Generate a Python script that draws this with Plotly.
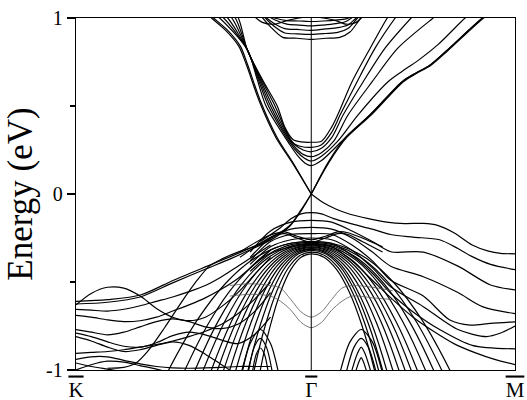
import plotly.graph_objects as go

# ---------------- axis definitions ----------------
K_POS, G_POS, M_POS = -1.1547, 0.0, 1.0
k_ticks = [K_POS, G_POS, M_POS]
k_labels = ['<span style="text-decoration:overline">K</span>',
            '<span style="text-decoration:overline">\u0393</span>',
            '<span style="text-decoration:overline">M</span>']
e_major = [-1, 0, 1]
e_major_labels = ["-1", "0", "1"]
e_minor = [-0.5, 0.5]

# ---------------- conduction bands (bulk quantum-well states) ----------------
cb_q = [
    [-0.40, -0.358, -0.314, -0.24, -0.167, -0.13, -0.09, -0.05, 0, 0.05, 0.10, 0.13, 0.20, 0.29, 0.373, 0.42],
    [-0.42, -0.373, -0.314, -0.245, -0.178, -0.125, -0.09, -0.05, 0, 0.05, 0.10, 0.142, 0.225, 0.314, 0.412, 0.46],
    [-0.44, -0.39, -0.314, -0.25, -0.19, -0.12, -0.08, -0.04, 0, 0.05, 0.10, 0.157, 0.255, 0.363, 0.49, 0.54],
    [-0.46, -0.41, -0.314, -0.255, -0.20, -0.115, -0.075, -0.04, 0, 0.05, 0.11, 0.181, 0.299, 0.426, 0.598, 0.65],
    [-0.48, -0.43, -0.314, -0.26, -0.21, -0.11, -0.07, -0.035, 0, 0.05, 0.13, 0.23, 0.377, 0.45, 0.52, 0.623, 0.755, 0.80],
    [-0.50, -0.45, -0.314, -0.265, -0.222, -0.105, -0.065, -0.03, 0, 0.05, 0.15, 0.289, 0.446, 0.51, 0.58, 0.66, 0.84, 0.88],
]
cb_E = [
    [1.06, 1.0, 0.82, 0.65, 0.50, 0.38, 0.31, 0.296, 0.294, 0.30, 0.38, 0.45, 0.638, 0.83, 1.0, 1.08],
    [1.05, 1.0, 0.82, 0.65, 0.50, 0.36, 0.29, 0.27, 0.265, 0.28, 0.35, 0.45, 0.638, 0.83, 1.0, 1.07],
    [1.05, 1.0, 0.82, 0.65, 0.50, 0.34, 0.28, 0.25, 0.24, 0.26, 0.32, 0.45, 0.638, 0.83, 1.0, 1.06],
    [1.05, 1.0, 0.82, 0.65, 0.50, 0.32, 0.26, 0.225, 0.212, 0.235, 0.30, 0.45, 0.638, 0.83, 1.0, 1.05],
    [1.04, 1.0, 0.82, 0.65, 0.50, 0.30, 0.24, 0.205, 0.1875, 0.215, 0.30, 0.45, 0.638, 0.70, 0.755, 0.85, 1.0, 1.04],
    [1.04, 1.0, 0.82, 0.65, 0.50, 0.28, 0.215, 0.175, 0.161, 0.19, 0.30, 0.45, 0.638, 0.685, 0.73, 0.81, 1.0, 1.03],
]

# ---------------- higher conduction states near the top ----------------
top_q = [
    [-0.26, -0.20, -0.14, -0.07, 0, 0.07, 0.14, 0.19, 0.23, 0.26],
    [-0.25, -0.19, -0.13, -0.07, 0, 0.07, 0.13, 0.18, 0.22, 0.25],
    [-0.25, -0.19, -0.13, -0.07, 0, 0.07, 0.13, 0.18, 0.22, 0.25],
    [-0.24, -0.18, -0.12, -0.06, 0, 0.06, 0.12, 0.17, 0.21, 0.24],
    [-0.24, -0.18, -0.12, -0.06, 0, 0.06, 0.12, 0.17, 0.21, 0.24],
    [-0.30, -0.24, -0.18, -0.12, -0.06, 0, 0.06, 0.12, 0.17, 0.22, 0.27],
]
top_E = [
    [1.03, 0.95, 0.89, 0.885, 0.878, 0.885, 0.89, 0.92, 0.98, 1.03],
    [1.03, 0.96, 0.915, 0.91, 0.907, 0.912, 0.918, 0.94, 0.99, 1.03],
    [1.03, 0.975, 0.94, 0.935, 0.93, 0.938, 0.945, 0.96, 1.0, 1.03],
    [1.03, 0.99, 0.965, 0.96, 0.955, 0.96, 0.968, 0.98, 1.01, 1.03],
    [1.03, 1.0, 0.985, 0.983, 0.98, 0.983, 0.988, 0.995, 1.015, 1.03],
    [1.03, 0.975, 0.965, 0.985, 1.0, 1.01, 1.0, 0.985, 0.965, 0.975, 1.03],
]

# ---------------- Dirac surface-state branches ----------------
dirac_q = [
    [0, -0.088, -0.167, -0.25, -0.314, -0.348, -0.41, -0.48, -0.52],
    [0, -0.092, -0.173, -0.256, -0.32, -0.356, -0.42, -0.49, -0.53],
    [0, 0.083, 0.167, 0.289, 0.446, 0.51, 0.58, 0.66, 0.84, 0.88],
    [0, 0.087, 0.173, 0.295, 0.452, 0.516, 0.586, 0.666, 0.846, 0.886],
    [0, -0.05, -0.103, -0.186, -0.30, -0.397, -0.51, -0.676, -0.838, -1.0, -1.1547],
    [0, -0.052, -0.108, -0.19, -0.305, -0.40, -0.515, -0.68, -0.84, -1.0, -1.1547],
    [0, 0.06, 0.12, 0.19, 0.28, 0.37, 0.46, 0.55, 0.62, 0.70, 0.79, 0.87, 0.93, 1.0],
]
dirac_E = [
    [0, 0.175, 0.32, 0.53, 0.74, 0.84, 0.93, 1.0, 1.04],
    [0, 0.175, 0.32, 0.53, 0.74, 0.84, 0.93, 1.0, 1.04],
    [0, 0.18, 0.32, 0.45, 0.638, 0.685, 0.73, 0.81, 1.0, 1.03],
    [0, 0.18, 0.32, 0.45, 0.638, 0.685, 0.73, 0.81, 1.0, 1.03],
    [0, -0.09, -0.176, -0.243, -0.307, -0.356, -0.41, -0.49, -0.574, -0.60, -0.61],
    [0, -0.10, -0.186, -0.255, -0.32, -0.37, -0.425, -0.505, -0.585, -0.615, -0.625],
    [0, -0.05, -0.085, -0.115, -0.14, -0.16, -0.168, -0.167, -0.178, -0.22, -0.29, -0.325, -0.337, -0.34],
]

# ---------------- valence bands running toward M ----------------
vr_q = [
    [-0.25, -0.15, -0.10, -0.05, 0, 0.05, 0.11, 0.20, 0.30, 0.39, 0.50, 0.63, 0.72, 0.79, 0.88, 1.0],
    [-0.30, -0.20, -0.10, 0, 0.10, 0.20, 0.30, 0.39, 0.55, 0.72, 0.88, 1.0],
    [-0.30, -0.20, -0.10, 0, 0.10, 0.20, 0.30, 0.39, 0.55, 0.72, 0.84, 1.0],
    [-0.30, -0.20, -0.10, 0, 0.10, 0.20, 0.30, 0.39, 0.55, 0.68, 0.78, 0.88, 1.0],
    [-0.30, -0.20, -0.10, 0, 0.10, 0.20, 0.30, 0.39, 0.55, 0.72, 0.86, 0.93, 1.0],
    [-0.30, -0.20, -0.10, 0, 0.10, 0.20, 0.30, 0.39, 0.50, 0.63, 0.79, 1.0],
    [-0.30, -0.20, -0.10, 0, 0.10, 0.20, 0.30, 0.40, 0.50, 0.60, 0.70, 0.80, 0.90, 1.0],
]
vr_E = [
    [-0.27, -0.19, -0.14, -0.113, -0.106, -0.113, -0.14, -0.17, -0.20, -0.23, -0.245, -0.26, -0.31, -0.356, -0.40, -0.43],
    [-0.33, -0.21, -0.16, -0.15, -0.16, -0.21, -0.27, -0.328, -0.33, -0.41, -0.517, -0.545],
    [-0.36, -0.25, -0.20, -0.19, -0.20, -0.25, -0.33, -0.41, -0.47, -0.56, -0.64, -0.68],
    [-0.38, -0.27, -0.23, -0.225, -0.23, -0.29, -0.38, -0.49, -0.58, -0.716, -0.745, -0.735, -0.726],
    [-0.40, -0.30, -0.26, -0.25, -0.26, -0.32, -0.42, -0.527, -0.64, -0.77, -0.81, -0.79, -0.75],
    [-0.42, -0.32, -0.28, -0.27, -0.28, -0.35, -0.45, -0.564, -0.67, -0.77, -0.86, -0.88],
    [-0.44, -0.34, -0.30, -0.286, -0.30, -0.38, -0.49, -0.60, -0.70, -0.78, -0.85, -0.90, -0.94, -0.97],
]

# ---------------- M-shaped (Rashba-like) valence states ----------------
mband_q = [
    [-0.35, -0.25, -0.18, -0.13, -0.07, 0, 0.07, 0.13, 0.18, 0.25, 0.35],
    [-0.35, -0.25, -0.18, -0.13, -0.07, 0, 0.07, 0.13, 0.18, 0.25, 0.35],
]
mband_E = [
    [-0.33, -0.26, -0.225, -0.215, -0.24, -0.26, -0.24, -0.215, -0.22, -0.25, -0.30],
    [-0.36, -0.28, -0.235, -0.225, -0.25, -0.275, -0.25, -0.225, -0.23, -0.27, -0.33],
]

# ---------------- bulk valence domes ----------------
dome_q = [
    [-0.77, -0.70, -0.56, -0.42, -0.28, -0.14, 0, 0.136, 0.272, 0.408, 0.544, 0.68, 0.748],
    [-0.682, -0.62, -0.496, -0.372, -0.248, -0.124, 0, 0.128, 0.256, 0.384, 0.512, 0.64, 0.704],
    [-0.627, -0.57, -0.456, -0.342, -0.228, -0.114, 0, 0.12, 0.24, 0.36, 0.48, 0.60, 0.66],
    [-0.583, -0.53, -0.424, -0.318, -0.212, -0.106, 0, 0.112, 0.224, 0.336, 0.448, 0.56, 0.616],
    [-0.539, -0.49, -0.392, -0.294, -0.196, -0.098, 0, 0.104, 0.208, 0.312, 0.416, 0.52, 0.572],
    [-0.506, -0.46, -0.368, -0.276, -0.184, -0.092, 0, 0.098, 0.196, 0.294, 0.392, 0.49, 0.539],
    [-0.473, -0.43, -0.344, -0.258, -0.172, -0.086, 0, 0.092, 0.184, 0.276, 0.368, 0.46, 0.506],
    [-0.44, -0.40, -0.32, -0.24, -0.16, -0.08, 0, 0.086, 0.172, 0.258, 0.344, 0.43, 0.473],
    [-0.407, -0.37, -0.296, -0.222, -0.148, -0.074, 0, 0.08, 0.16, 0.24, 0.32, 0.40, 0.44],
    [-0.374, -0.34, -0.272, -0.204, -0.136, -0.068, 0, 0.074, 0.148, 0.222, 0.296, 0.37, 0.407],
    [-0.341, -0.31, -0.248, -0.186, -0.124, -0.062, 0, 0.07, 0.14, 0.21, 0.28, 0.35, 0.385],
    [-0.308, -0.28, -0.224, -0.168, -0.112, -0.056, 0, 0.066, 0.132, 0.198, 0.264, 0.33, 0.363],
    [-0.275, -0.25, -0.20, -0.15, -0.10, -0.05, 0, 0.062, 0.124, 0.186, 0.248, 0.31, 0.341],
]
dome_E = [
    [-1.17, -1.0, -0.717, -0.507, -0.367, -0.291, -0.27, -0.291, -0.367, -0.507, -0.717, -1.0, -1.17],
    [-1.17, -1.0, -0.719, -0.511, -0.371, -0.296, -0.275, -0.296, -0.371, -0.511, -0.719, -1.0, -1.17],
    [-1.17, -1.0, -0.721, -0.514, -0.376, -0.301, -0.28, -0.301, -0.376, -0.514, -0.721, -1.0, -1.17],
    [-1.17, -1.0, -0.723, -0.517, -0.38, -0.306, -0.285, -0.306, -0.38, -0.517, -0.723, -1.0, -1.17],
    [-1.17, -1.0, -0.725, -0.521, -0.384, -0.311, -0.29, -0.311, -0.384, -0.521, -0.725, -1.0, -1.17],
    [-1.17, -1.0, -0.726, -0.524, -0.389, -0.315, -0.295, -0.315, -0.389, -0.524, -0.726, -1.0, -1.17],
    [-1.17, -1.0, -0.728, -0.528, -0.393, -0.32, -0.30, -0.32, -0.393, -0.528, -0.728, -1.0, -1.17],
    [-1.17, -1.0, -0.73, -0.531, -0.397, -0.325, -0.305, -0.325, -0.397, -0.531, -0.73, -1.0, -1.17],
    [-1.17, -1.0, -0.732, -0.534, -0.402, -0.33, -0.31, -0.33, -0.402, -0.534, -0.732, -1.0, -1.17],
    [-1.17, -1.0, -0.734, -0.538, -0.406, -0.335, -0.315, -0.335, -0.406, -0.538, -0.734, -1.0, -1.17],
    [-1.17, -1.0, -0.736, -0.541, -0.41, -0.34, -0.32, -0.34, -0.41, -0.541, -0.736, -1.0, -1.17],
    [-1.17, -1.0, -0.74, -0.548, -0.419, -0.349, -0.33, -0.349, -0.419, -0.548, -0.74, -1.0, -1.17],
    [-1.17, -1.0, -0.744, -0.555, -0.428, -0.359, -0.34, -0.359, -0.428, -0.555, -0.744, -1.0, -1.17],
]

# ---------------- deep arches below the domes ----------------
arch_q = [
    [-0.34, -0.30, -0.25, -0.20, -0.16],
    [-0.31, -0.28, -0.25, -0.22, -0.19],
    [-0.29, -0.27, -0.25, -0.23, -0.21],
    [0.14, 0.19, 0.245, 0.30, 0.35],
    [0.17, 0.21, 0.245, 0.28, 0.32],
    [0.195, 0.225, 0.245, 0.265, 0.295],
    [0.215, 0.235, 0.245, 0.255, 0.275],
]
arch_E = [
    [-1.02, -0.85, -0.77, -0.85, -1.02],
    [-1.02, -0.87, -0.82, -0.87, -1.02],
    [-1.02, -0.91, -0.875, -0.91, -1.02],
    [-1.02, -0.84, -0.77, -0.84, -1.02],
    [-1.02, -0.87, -0.82, -0.87, -1.02],
    [-1.02, -0.91, -0.87, -0.91, -1.02],
    [-1.02, -0.95, -0.93, -0.95, -1.02],
]

# ---------------- bands starting at K ----------------
left_q = [-1.1547, -1.08, -1.0, -0.92, -0.84, -0.76, -0.68, -0.60, -0.52, -0.44, -0.36, -0.28, -0.20]
left_E = [
    [-0.63, -0.565, -0.53, -0.535, -0.58, -0.65, -0.70, -0.72, -0.70, -0.64, -0.56, -0.46, -0.36],
    [-0.655, -0.66, -0.665, -0.655, -0.635, -0.61, -0.585, -0.555, -0.52, -0.47, -0.41, -0.35, -0.29],
    [-0.69, -0.70, -0.715, -0.725, -0.72, -0.70, -0.665, -0.63, -0.59, -0.54, -0.48, -0.40, -0.32],
    [-0.77, -0.785, -0.80, -0.785, -0.755, -0.725, -0.71, -0.725, -0.755, -0.765, -0.74, -0.67, -0.56],
    [-0.79, -0.81, -0.84, -0.865, -0.87, -0.845, -0.805, -0.785, -0.80, -0.83, -0.85, -0.80, -0.70],
    [-0.81, -0.835, -0.87, -0.895, -0.885, -0.86, -0.84, -0.86, -0.91, -0.97, -1.03, -1.08, -1.10],
    [-0.905, -0.90, -0.895, -0.885, -0.87, -0.855, -0.835, -0.81, -0.78, -0.74, -0.68, -0.60, -0.50],
    [-0.94, -0.925, -0.925, -0.945, -0.965, -0.98, -0.988, -0.99, -0.988, -0.985, -0.98, -0.98, -0.98],
    [-0.96, -0.98, -0.995, -1.01, -1.03, -1.05, -1.07, -1.09, -1.10, -1.10, -1.10, -1.10, -1.10],
    [-1.0, -0.97, -0.95, -0.955, -0.975, -0.995, -1.02, -1.05, -1.08, -1.10, -1.10, -1.10, -1.10],
]
steep_q = [-1.0, -0.92, -0.86, -0.80, -0.72, -0.64, -0.56, -0.50, -0.44, -0.36, -0.28, -0.20]
steep_E = [-0.99, -0.985, -0.96, -0.89, -0.76, -0.62, -0.49, -0.41, -0.37, -0.33, -0.30, -0.26]

# ---------------- faint states around Gamma ----------------
thin_q = [-0.40, -0.30, -0.20, -0.15, -0.10, -0.05, 0, 0.05, 0.10, 0.15, 0.20, 0.30, 0.40]
thin_E = [
    [-0.52, -0.51, -0.52, -0.535, -0.60, -0.67, -0.70, -0.67, -0.60, -0.535, -0.52, -0.53, -0.55],
    [-0.58, -0.57, -0.58, -0.61, -0.66, -0.73, -0.76, -0.73, -0.66, -0.61, -0.58, -0.59, -0.60],
]

# ---------------- build figure ----------------
fig = go.Figure()
BAND = dict(color="black", width=1.2, shape="spline", smoothing=0.8)
THIN = dict(color="#555555", width=0.8, shape="spline", smoothing=0.8)


def add_band(q, e, style=BAND):
    fig.add_trace(go.Scatter(x=q, y=e, mode="lines", line=style,
                             showlegend=False, hoverinfo="skip", cliponaxis=True))


for qs, es in ((cb_q, cb_E), (top_q, top_E), (dirac_q, dirac_E), (vr_q, vr_E),
               (mband_q, mband_E), (dome_q, dome_E), (arch_q, arch_E)):
    for q, e in zip(qs, es):
        add_band(q, e)
for e in left_E:
    add_band(left_q, e)
add_band(steep_q, steep_E)
for e in thin_E:
    add_band(thin_q, e, THIN)

# vertical line at Gamma
fig.add_vline(x=G_POS, line=dict(color="black", width=1))

FONT = "Liberation Serif, Times New Roman, serif"
fig.update_layout(
    width=527, height=400,
    margin=dict(l=76, r=12, t=18, b=30),
    paper_bgcolor="white", plot_bgcolor="white",
    font=dict(family=FONT, color="black", size=20),
    xaxis=dict(range=[K_POS, M_POS], tickvals=k_ticks, ticktext=k_labels,
               ticks="", showgrid=False, zeroline=False, automargin=False,
               showline=True, mirror=True, linecolor="black", linewidth=1.3,
               tickfont=dict(family=FONT, size=21)),
    yaxis=dict(range=[-1, 1], tickvals=e_major, ticktext=e_major_labels,
               ticks="outside", ticklen=8, tickwidth=1.2, tickcolor="black",
               minor=dict(tickvals=e_minor, ticks="outside", ticklen=5,
                          tickwidth=1.2, tickcolor="black"),
               showgrid=False, zeroline=False, automargin=False,
               showline=True, mirror=True, linecolor="black", linewidth=1.3,
               tickfont=dict(family=FONT, size=20),
               title=dict(text="Energy (eV)", font=dict(family=FONT, size=35), standoff=2)),
)

fig.write_html("out.html",
               config={"displayModeBar": False, "staticPlot": True},
               post_script="document.body.style.margin='0px';document.body.style.overflow='hidden';")
